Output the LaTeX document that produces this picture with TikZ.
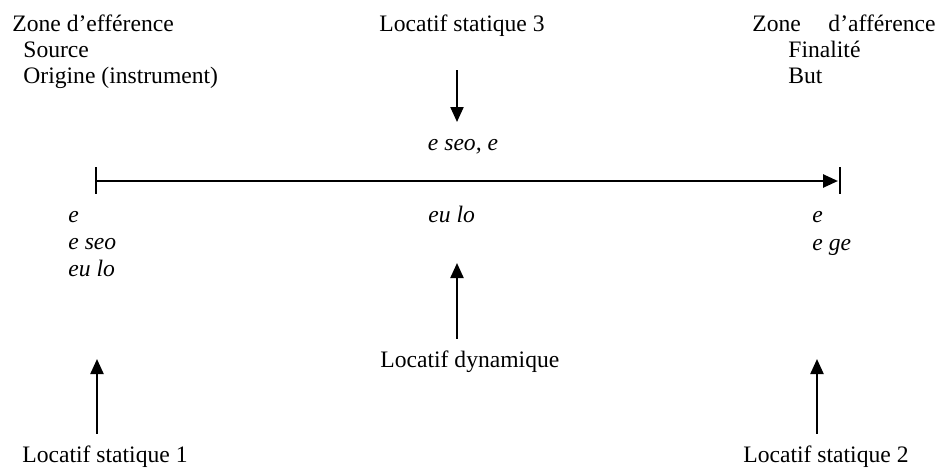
\documentclass[tikz,border=0pt]{standalone}
\usepackage{fontspec}
\setmainfont{Liberation Serif}
\usetikzlibrary{arrows.meta, positioning}

\begin{document}
\begin{tikzpicture}[
    x=0.5pt, y=-0.5pt,
    word/.style={font=\fontsize{11.8}{13.5}\selectfont, inner sep=0pt, anchor=base west},
    form/.style={word, font=\fontsize{11.8}{13.5}\selectfont\itshape},
    arrow/.style={-{Triangle[length=7.5pt, width=6.5pt]}, line width=1.1pt},
    axis/.style={line width=1.3pt},
    tickmark/.style={line width=0.9pt}
]
    \useasboundingbox (0,0) rectangle (939,468);

    % Top labels
    \node[word] (eff) at (12,31) {Zone d’efférence};
    \node[word] (src) at (23,57) {Source};
    \node[word] (orig) at (23,83) {Origine (instrument)};
    \node[word, anchor=base] (ls3) at (462,31) {Locatif statique 3};
    \node[word] (aff) at (752,31) {Zone\hspace{13.8pt}d’afférence};
    \node[word] (fin) at (788,57) {Finalité};
    \node[word] (but) at (788,83) {But};

    % Axis
    \coordinate (axL) at (96,181);
    \coordinate (axR) at (840,181);
    \draw[axis, -{Triangle[length=7.5pt, width=6.5pt]}] (axL) -- ([xshift=-1pt]axR);
    \draw[tickmark] (axL) ++(0,-14) -- ++(0,27);
    \draw[tickmark] (axR) ++(0,-14) -- ++(0,27);

    % Forms above and below the axis
    \node[form, anchor=base] (eseo) at (463,150) {e seo, e};
    \node[form] (e_l) at (68,222) {e};
    \node[form] (eseo_l) at (68,249) {e seo};
    \node[form] (eulo_l) at (68,276) {eu lo};
    \node[form] (eulo_m) at (428,222) {eu lo};
    \node[form] (e_r) at (812,222) {e};
    \node[form] (ege_r) at (812,250) {e ge};

    % Bottom labels
    \node[word] (ldyn) at (380,367) {Locatif dynamique};
    \node[word] (ls1) at (22,462) {Locatif statique 1};
    \node[word] (ls2) at (743,462) {Locatif statique 2};

    % Arrows
    \coordinate (ls3_tip) at (457,122);
    \coordinate (ldyn_tip) at (457,263);
    \coordinate (ls1_tip) at (97,359);
    \coordinate (ls2_tip) at (817,359);
    \draw[arrow] (ls3_tip |- ls3.south) ++(0,34) -- (ls3_tip);
    \draw[arrow] (ldyn_tip |- ldyn.north) ++(0,-11) -- (ldyn_tip);
    \draw[arrow] (ls1_tip |- ls1.north) ++(0,-11) -- (ls1_tip);
    \draw[arrow] (ls2_tip |- ls2.north) ++(0,-11) -- (ls2_tip);

\end{tikzpicture}
\end{document}
